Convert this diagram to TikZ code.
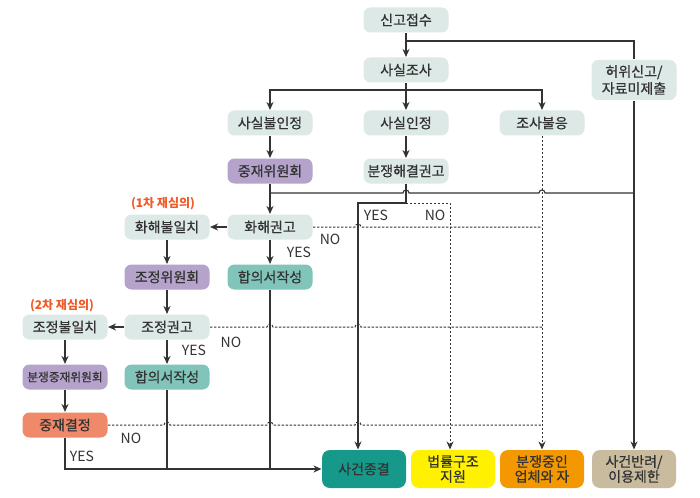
\documentclass[tikz,border=0pt]{standalone}
\usepackage{fontspec}
\setmainfont{Noto Sans CJK KR}
\newfontfamily\boxfont{Noto Sans CJK KR}[FakeBold=0.6]
\usetikzlibrary{arrows.meta}
\definecolor{ink}{HTML}{333333}
\definecolor{pale}{HTML}{DDE9E6}
\definecolor{lilac}{HTML}{B5A3CC}
\definecolor{mint}{HTML}{80C4BA}
\definecolor{deepteal}{HTML}{16998A}
\definecolor{lemon}{HTML}{FFF100}
\definecolor{amber}{HTML}{F39800}
\definecolor{sand}{HTML}{C9BB9E}
\definecolor{salmon}{HTML}{F0896A}
\definecolor{accent}{HTML}{F05A28}
\tikzstyle{box} = [rectangle, rounded corners=7pt, fill=pale, minimum width=85pt, minimum height=25pt, inner sep=1pt, text=ink, font=\boxfont\fontsize{14}{17}\selectfont, align=center]
\tikzstyle{comm} = [box, fill=lilac]
\tikzstyle{agree} = [box, fill=mint]
\tikzstyle{endbox} = [box, minimum width=84pt, minimum height=38pt, rounded corners=8pt, font=\boxfont\fontsize{14}{15}\selectfont]
\tikzstyle{lbl} = [text=ink, inner sep=0pt, font=\fontsize{14}{16}\selectfont]
\tikzstyle{note} = [text=accent, inner sep=0pt, font=\fontsize{12}{14}\selectfont\bfseries]
\tikzstyle{dline} = [dash pattern=on 2.4pt off 1.6pt, line width=1pt]

\begin{document}
\begin{tikzpicture}[x=1pt, y=-1pt, >={Stealth[length=8pt,width=7pt]}, line width=1.1pt, draw=ink]
    \path[use as bounding box, fill=white] (0,0) rectangle (700,497);
    % top part
    \draw (406,20) node[box] (rep) {신고접수};
    \draw (406,70) node[box] (inv) {사실조사};
    \draw (634,80) node[box, minimum height=40pt] (fake) {허위신고/\\자료미제출};
    \draw (270,123) node[box] (nf) {사실불인정};
    \draw (406,123) node[box] (fact) {사실인정};
    \draw (542,123) node[box] (ref) {조사불응};
    \draw (270,171) node[comm] (arb) {중재위원회};
    \draw (406,171) node[box] (adv) {분쟁해결권고};
    % reconsideration steps
    \draw (270,227) node[box] (cr1) {화해권고};
    \draw (167,227) node[box] (cf1) {화해불일치};
    \draw (163,204) node[note] (rv1) {(1차 재심의)};
    \draw (270,277) node[agree] (ag1) {합의서작성};
    \draw (167,277) node[comm] (med) {조정위원회};
    \draw (167,327) node[box] (cr2) {조정권고};
    \draw (65,327) node[box] (cf2) {조정불일치};
    \draw (62,306) node[note] (rv2) {(2차 재심의)};
    \draw (167,377) node[agree] (ag2) {합의서작성};
    \draw (65,377) node[comm, font=\boxfont\fontsize{11.7}{14}\selectfont] (arb2) {분쟁중재위원회};
    \draw (65,425) node[box, fill=salmon] (dec) {중재결정};
    % results
    \draw (364,469) node[endbox, fill=deepteal] (end1) {사건종결};
    \draw (453,469) node[endbox, fill=lemon] (end2) {법률구조\\지원};
    \draw (542,469) node[endbox, fill=amber] (end3) {분쟁중인\\업체와 자};
    \draw (634,469) node[endbox, fill=sand] (end4) {사건반려/\\이용제한};
    % labels
    \draw (376,215) node[lbl] (y0) {YES};
    \draw (435,215) node[lbl] (n0) {NO};
    \draw (299,252) node[lbl] (y1) {YES};
    \draw (330,239) node[lbl] (n1) {NO};
    \draw (194,350) node[lbl] (y2) {YES};
    \draw (231,342) node[lbl] (n2) {NO};
    \draw (82,456) node[lbl] (y3) {YES};
    \draw (131,438) node[lbl] (n3) {NO};
    \coordinate (j1) at (406,41);
    \coordinate (j2) at (406,90);
    \coordinate (j3) at (406,203);
    \coordinate (yes) at (358,203);
    \coordinate (no) at (450,203);
    \draw [->] (rep) -- (inv);
    \draw (j1) -| (fake);
    \draw (inv) -- (j2);
    \draw [->] (j2) -| (nf);
    \draw [->] (j2) -| (ref);
    \draw [->] (j2) -- (fact);
    \draw [->] (nf) -- (arb);
    \draw [->] (fact) -- (adv);
    \draw [->] (arb) -- (cr1);
    \draw (270,193) -- (403,193) arc[start angle=180, end angle=360, radius=3] -- (539,193) arc[start angle=180, end angle=360, radius=3] -- (634,193);
    \draw [->] (fake) -- (end4);
    \draw (adv) -- (j3);
    \draw [->] (j3) -- (yes) -- (yes |- end1.north);
    \draw [dline, ->] (j3) -- (no) -- (no |- end2.north);
    \draw [dline, ->] (ref) -- (end3);
    \draw [->] (cr1) -- (cf1);
    \draw [->] (cr1) -- (ag1);
    \draw [->] (cf1) -- (med);
    \draw [->] (med) -- (cr2);
    \draw [->] (cr2) -- (cf2);
    \draw [->] (cr2) -- (ag2);
    \draw [->] (cf2) -- (arb2);
    \draw [->] (arb2) -- (dec);
    \draw [->] (dec) |- (end1);
    \draw (ag1) -- (ag1 |- end1);
    \draw (ag2) -- (ag2 |- end1);
    % NO lines
    \draw [dline] (cr1) -- (355,227) arc[start angle=180, end angle=360, radius=3] -- (ref |- cr1);
    \draw [dline] (cr2) -- (267,327) arc[start angle=180, end angle=360, radius=3] -- (355,327) arc[start angle=180, end angle=360, radius=3] -- (ref |- cr2);
    \draw [dline] (dec) -- (164,425) arc[start angle=180, end angle=360, radius=3] -- (267,425) arc[start angle=180, end angle=360, radius=3] -- (355,425) arc[start angle=180, end angle=360, radius=3] -- (ref |- dec);
\end{tikzpicture}
\end{document}
